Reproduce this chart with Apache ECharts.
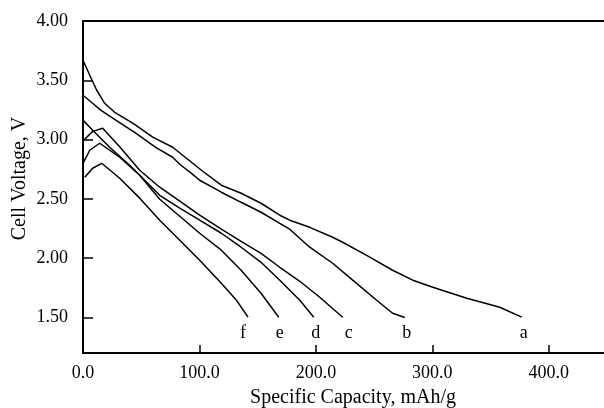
<!DOCTYPE html>
<html>
<head>
<meta charset="utf-8">
<script src="https://cdn.jsdelivr.net/npm/echarts@6/dist/echarts.min.js"></script>
<style>
  html, body { margin: 0; padding: 0; background: #fff; }
  #chart { width: 604px; height: 408px; }
</style>
</head>
<body>
<div id="chart"></div>
<script>
// Discharge curves: specific capacity (mAh/g) vs cell voltage (V)
const curveNames = ['a', 'b', 'c', 'd', 'e', 'f'];

const capA = [0, 5.8, 11.8, 18.6, 27.2, 42.7, 59.9, 77.0, 94.2, 102.8, 118.8, 135.8, 152.9, 169.0, 177.5, 194.7, 214.4, 223.0, 243.6, 265.9, 283.2, 300.4, 329.6, 357.9, 376.8];
const voltA = [3.669, 3.542, 3.416, 3.306, 3.230, 3.139, 3.020, 2.935, 2.800, 2.733, 2.615, 2.547, 2.463, 2.362, 2.320, 2.260, 2.176, 2.134, 2.024, 1.898, 1.814, 1.755, 1.662, 1.586, 1.502];

const capB = [0, 8.3, 15.2, 28.1, 45.3, 62.4, 77.0, 83.1, 94.2, 100.2, 118.8, 135.8, 152.9, 169.0, 177.5, 194.7, 214.4, 231.6, 252.2, 265.9, 276.3];
const voltB = [3.374, 3.306, 3.248, 3.164, 3.054, 2.935, 2.851, 2.792, 2.707, 2.657, 2.556, 2.471, 2.387, 2.294, 2.244, 2.092, 1.957, 1.814, 1.645, 1.535, 1.500];

const capC = [0.6, 8.3, 16.9, 31.5, 48.7, 65.9, 83.1, 100.2, 118.8, 135.8, 152.9, 169.0, 186.2, 203.3, 223.0];
const voltC = [2.995, 3.069, 3.095, 2.940, 2.741, 2.598, 2.480, 2.362, 2.244, 2.142, 2.041, 1.923, 1.805, 1.670, 1.502];

const capD = [0, 8.3, 22.9, 40.1, 65.9, 83.1, 100.2, 118.8, 135.8, 152.9, 169.0, 186.2, 198.2];
const voltD = [3.164, 3.078, 2.935, 2.783, 2.530, 2.421, 2.320, 2.210, 2.092, 1.965, 1.814, 1.645, 1.502];

const capE = [0, 5.8, 14.3, 31.5, 48.7, 65.9, 83.1, 100.2, 118.8, 135.8, 152.9, 168.1];
const voltE = [2.800, 2.910, 2.969, 2.851, 2.699, 2.497, 2.353, 2.210, 2.067, 1.898, 1.704, 1.502];

const capF = [1.5, 8.3, 16.1, 31.5, 48.7, 65.9, 83.1, 100.2, 118.8, 131.8, 141.7];
const voltF = [2.682, 2.758, 2.800, 2.674, 2.506, 2.320, 2.151, 1.982, 1.788, 1.645, 1.502];

// Where each curve's letter sits under its end point
const labelCapacity = [378.5, 278.1, 228.2, 199.9, 169.0, 137.3];
const labelVoltage = 1.367;

const xTicks = [0, 100, 200, 300, 400];
const yTicks = [1.5, 2.0, 2.5, 3.0, 3.5, 4.0];

const caps = [capA, capB, capC, capD, capE, capF];
const volts = [voltA, voltB, voltC, voltD, voltE, voltF];

const serif = "'Liberation Serif', 'Times New Roman', serif";
const ink = '#000';

const curveSeries = curveNames.map((name, i) => ({
  name: name,
  type: 'line',
  showSymbol: false,
  symbol: 'none',
  silent: true,
  lineStyle: { color: ink, width: 1.5 },
  data: caps[i].map((c, j) => [c, volts[i][j]])
}));

const letterSeries = {
  type: 'scatter',
  silent: true,
  symbolSize: 0,
  itemStyle: { color: ink },
  label: {
    show: true,
    position: 'inside',
    formatter: p => p.name,
    color: ink,
    opacity: 1,
    textBorderWidth: 0,
    fontFamily: serif,
    fontSize: 18
  },
  data: curveNames.map((name, i) => ({ name: name, value: [labelCapacity[i], labelVoltage] }))
};

const chart = echarts.init(document.getElementById('chart'), null, { renderer: 'canvas' });
chart.setOption({
  animation: false,
  backgroundColor: '#fff',
  grid: {
    left: 83, right: -3, top: 21, bottom: 55,
    outerBoundsMode: 'none',
    containLabel: false,
    show: true, borderColor: ink, borderWidth: 2, backgroundColor: 'transparent'
  },
  xAxis: {
    type: 'value',
    min: 0, max: 450,
    name: 'Specific Capacity, mAh/g',
    nameLocation: 'middle',
    nameGap: 35,
    nameTextStyle: { color: ink, fontFamily: serif, fontSize: 20, padding: [0, 0, 0, 16] },
    axisLine: { show: true, lineStyle: { color: ink, width: 2 } },
    axisTick: { show: true, inside: true, length: 8, customValues: xTicks, lineStyle: { color: ink, width: 1.5 } },
    axisLabel: { customValues: xTicks, margin: 11, color: ink, fontFamily: serif, fontSize: 18, formatter: v => v.toFixed(1) },
    splitLine: { show: false }
  },
  yAxis: {
    type: 'value',
    min: 1.2, max: 4.0,
    name: 'Cell Voltage, V',
    nameLocation: 'middle',
    nameGap: 53,
    nameMoveOverlap: false,
    nameTextStyle: { color: ink, fontFamily: serif, fontSize: 20, padding: [0, 0, 0, 17] },
    axisLine: { show: true, lineStyle: { color: ink, width: 2 } },
    axisTick: { show: true, inside: true, length: 10, customValues: yTicks, lineStyle: { color: ink, width: 1.5 } },
    axisLabel: { customValues: yTicks, margin: 15, color: ink, fontFamily: serif, fontSize: 18, formatter: v => v.toFixed(2) },
    splitLine: { show: false }
  },
  series: [...curveSeries, letterSeries]
});
</script>
</body>
</html>
